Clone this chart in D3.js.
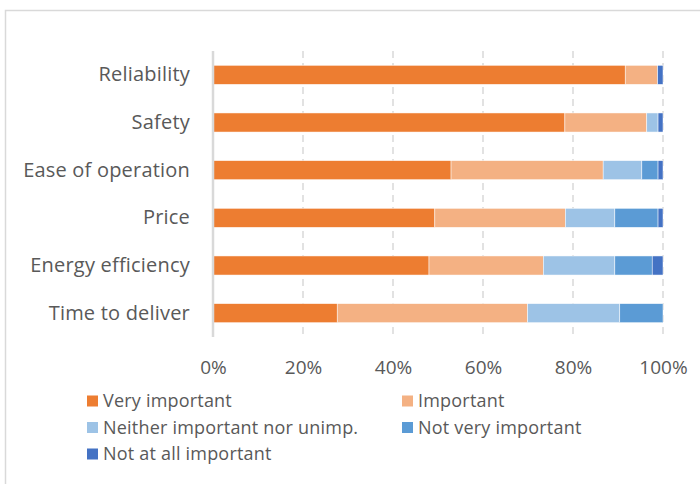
<!DOCTYPE html>
<html>
<head>
<meta charset="utf-8">
<script src="https://cdn.jsdelivr.net/npm/d3@7"></script>
<style>
  html, body { margin: 0; padding: 0; background: #fff; }
  svg text { font-family: "Open Sans", sans-serif; fill: #595959; }
</style>
</head>
<body>
<svg id="chart" width="700" height="484"></svg>
<script>
const categories = ["Reliability", "Safety", "Ease of operation", "Price", "Energy efficiency", "Time to deliver"];
const seriesNames = ["Very important", "Important", "Neither important nor unimp.", "Not very important", "Not at all important"];
const veryImportant   = [91.6, 78.2, 52.9, 49.3, 48.0, 27.6];
const important       = [7.2, 18.2, 33.8, 29.0, 25.4, 42.3];
const neither         = [0.0, 2.5, 8.6, 11.0, 15.9, 20.5];
const notVery         = [0.0, 0.0, 3.6, 9.6, 8.3, 9.6];
const notAtAll        = [1.2, 1.1, 1.1, 1.1, 2.4, 0.0];
const tickValues = [0, 0.2, 0.4, 0.6, 0.8, 1.0];
const tickLabels = ["0%", "20%", "40%", "60%", "80%", "100%"];
const colors = ["#ed7d31", "#f4b183", "#9dc3e6", "#5b9bd5", "#4472c4"];

(function () {
const seriesValues = [veryImportant, important, neither, notVery, notAtAll];
const rows = categories.map((c, i) => {
  const o = { category: c };
  seriesNames.forEach((s, k) => o[s] = seriesValues[k][i]);
  return o;
});
const stacked = d3.stack().keys(seriesNames).offset(d3.stackOffsetExpand)(rows);

const svg = d3.select("#chart");
svg.append("rect").attr("x", 5.5).attr("y", 10.5).attr("width", 720).attr("height", 500)
  .attr("fill", "none").attr("stroke", "#d9d9d9").attr("stroke-width", 1.5);

const pLeft = 213, pRight = 663, pTop = 51, pBottom = 337;
const x = d3.scaleLinear().domain([0, 1]).range([pLeft, pRight]);
const y = d3.scaleBand().domain(categories).range([pTop, pBottom]).paddingInner(0.6).paddingOuter(0.3);

svg.append("g").selectAll("line").data(tickValues.slice(1)).join("line")
  .attr("x1", d => x(d)).attr("x2", d => x(d)).attr("y1", pTop).attr("y2", pBottom)
  .attr("stroke", "#d9d9d9").attr("stroke-width", 1.5).attr("stroke-dasharray", "7,5");

const g = svg.append("g");
stacked.forEach((layer, k) => {
  g.append("g").attr("fill", colors[k]).selectAll("rect").data(layer).join("rect")
    .attr("x", d => x(d[0])).attr("width", d => Math.max(0, x(d[1]) - x(d[0])))
    .attr("y", d => y(d.data.category)).attr("height", y.bandwidth())
    .attr("stroke", "#fff").attr("stroke-width", 0.5);
});

svg.append("line").attr("x1", pLeft).attr("x2", pLeft).attr("y1", pTop).attr("y2", pBottom)
  .attr("stroke", "#d9d9d9").attr("stroke-width", 2.5);

const yAxis = d3.axisLeft(y).tickSize(0).tickPadding(23);
const ya = svg.append("g").attr("transform", `translate(${pLeft},0)`).call(yAxis);
ya.select(".domain").remove();
ya.selectAll("text").style("font-size", "20px").style("letter-spacing", "0.2px")
  .style("font-family", "'Open Sans', sans-serif").attr("fill", "#595959");

const xAxis = d3.axisBottom(x).tickValues(tickValues).tickFormat((d, i) => tickLabels[i]).tickSize(0).tickPadding(24);
const xa = svg.append("g").attr("transform", `translate(0,${pBottom})`).call(xAxis);
xa.select(".domain").remove();
xa.selectAll("text").style("font-size", "19px").style("font-family", "'Open Sans', sans-serif").attr("fill", "#595959");

const legendPos = [[87, 401], [402, 401], [87, 427.5], [402, 427.5], [87, 454]];
const lg = svg.append("g");
seriesNames.forEach((s, k) => {
  const [lx, ly] = legendPos[k];
  lg.append("rect").attr("x", lx).attr("y", ly - 5.5).attr("width", 11).attr("height", 11).attr("fill", colors[k]);
  lg.append("text").attr("x", lx + 16).attr("y", ly).attr("dy", "0.35em")
    .style("font-size", "18px").style("letter-spacing", "0.2px").text(s);
});
})();
</script>
</body>
</html>
